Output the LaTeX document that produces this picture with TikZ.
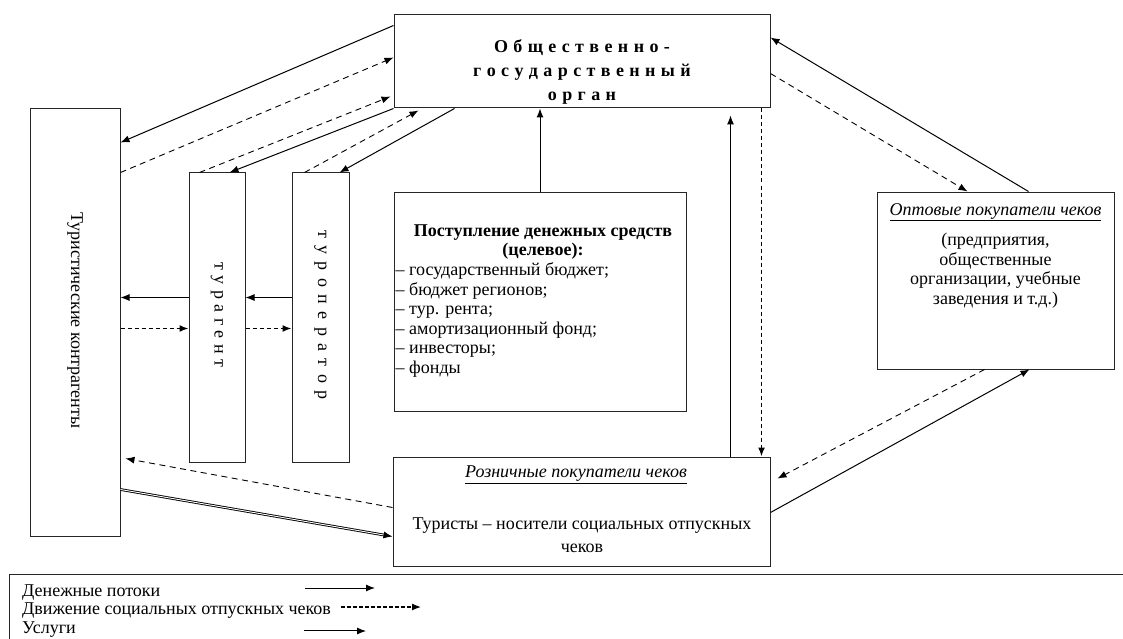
\documentclass[tikz,border=0pt]{standalone}
\usepackage{fontspec}
\setmainfont{Liberation Serif}
\usepackage{tikz}
\usetikzlibrary{arrows.meta}
\newcommand\wideskip[1]{\spaceskip=#1\relax}

\begin{document}
\begin{tikzpicture}[x=1pt,y=-1pt,font=\fontsize{18}{19.5}\selectfont]
\tikzset{>={Latex[width=7pt,length=9pt]}}
\tikzstyle{box} =[draw=black!85, line width=1pt, inner sep=0pt]
\tikzstyle{txt} =[inner sep=0pt]
\tikzstyle{money} =[->, line width=1pt]
\tikzstyle{cheque} =[->, line width=0.9pt, dash pattern=on 6pt off 4.5pt]
\tikzstyle{chequebold} =[->, line width=1.6pt, dash pattern=on 4pt off 3pt]
\tikzstyle{service} =[->, double, double distance=0.9pt, line width=0.9pt]
\useasboundingbox (0,0) rectangle (1123,639);

% boxes
\node[box, minimum width=376, minimum height=93] (org) at (582,61.5) {};
\node[box, minimum width=90, minimum height=427] (kontr) at (75,322.5) {};
\node[box, minimum width=56, minimum height=289] (agent) at (217,317.5) {};
\node[box, minimum width=57, minimum height=289] (oper) at (320.5,317.5) {};
\node[box, minimum width=292, minimum height=219] (fund) at (540,301.5) {};
\node[box, minimum width=237, minimum height=177] (opt) at (995.5,280.5) {};
\node[box, minimum width=377, minimum height=109] (retail) at (581.5,511.5) {};

% texts
\node[txt, align=center, font={\fontsize{18}{24}\selectfont\bfseries\wideskip{5.4pt}}] (orgText) at ([yshift=-10.5]org.center) {О б щ е с т в е н н о -\\г о с у д а р с т в е н н ы й\\о р г а н};
\node[txt, rotate=-90] (kontrText) at ([yshift=2]kontr.center) {Туристические контрагенты};
\node[txt, rotate=-90, font={\fontsize{18}{19.5}\selectfont\wideskip{5.4pt}}] (agentText) at ([yshift=2.5]agent.center) {т у р а г е н т};
\node[txt, rotate=-90, font={\fontsize{18}{19.5}\selectfont\wideskip{7.4pt}}] (operText) at ([yshift=2.5]oper.center) {т у р о п е р а т о р};
\node[txt, align=center, font={\fontsize{18}{19.5}\selectfont\bfseries}] (fundHead) at (543,242) {Поступление денежных средств\\(целевое):};
\node[txt, align=left, anchor=west] (fundList) at ([xshift=2]fund.west |- 0,320) {-- государственный бюджет;\\-- бюджет регионов;\\-- тур. рента;\\-- амортизационный фонд;\\-- инвесторы;\\-- фонды};
\node[txt] (optTitle) at (995.5,212) {\underline{\textit{Оптовые покупатели чеков}}};
\node[txt, align=center] (optText) at (995.5,270.5) {(предприятия,\\общественные\\организации, учебные\\заведения и т.д.)};
\node[txt] (retailTitle) at (576,475) {\underline{\textit{Розничные покупатели чеков}}};
\node[txt, align=center, font={\fontsize{18}{23}\selectfont}] (retailText) at (582,535.5) {Туристы -- носители социальных отпускных\\чеков};

% money
\draw[money] ([yshift=-11]org.north west) -- ([yshift=-34]kontr.north east);
\draw[money] (org.south west) -- ([xshift=41]agent.north west);
\draw[money] ([xshift=61]org.south west) -- ([xshift=48]oper.north west);
\draw[money] (fund.north) -- (fund.north |- org.south);
\draw[money] ([xshift=-40]retail.north east) -- ([xshift=-40,yshift=-7]org.south east);
\draw[money] ([xshift=-86]opt.north east) -- ([yshift=-23]org.north east);
\draw[money] ([yshift=-56]retail.north east) -- ([xshift=153]opt.south west);
\draw[money] ([yshift=-125]agent.north west) -- ([yshift=-189]kontr.north east);
\draw[money] ([yshift=-125]oper.north west) -- ([yshift=-125]agent.north east);

% cheques
\draw[cheque] ([yshift=-64]kontr.north east) -- ([yshift=-43]org.north west);
\draw[cheque] ([xshift=11]agent.north west) -- ([xshift=-3,yshift=-82]org.north west);
\draw[cheque] ([xshift=13]oper.north west) -- ([xshift=25,yshift=-2]org.south west);
\draw[cheque] ([yshift=-59]org.north east) -- ([xshift=91]opt.north west);
\draw[cheque] ([xshift=108]opt.south west) -- ([xshift=7,yshift=-22]retail.north east);
\draw[cheque] ([yshift=-51]retail.north west) -- ([xshift=5,yshift=-350]kontr.north east);
\draw[chequebold] ([xshift=-9]org.south east) -- ([xshift=-9]retail.north east);
\draw[chequebold] ([yshift=-220]kontr.north east) -- ([yshift=-156]agent.north west);
\draw[chequebold] ([yshift=-156]agent.north east) -- ([yshift=-156]oper.north west);

% services
\draw[service] ([yshift=-381]kontr.north east) -- ([yshift=-80]retail.north west);

% legend
\draw[line width=1pt, draw=black!85] (9,639) -- (9,574) -- (1123,574);
\node[txt, align=left, anchor=west, font={\fontsize{18}{18.5}\selectfont}] (legend) at (22,611) {Денежные потоки\\Движение социальных отпускных чеков\\Услуги};
\coordinate (m1) at (305,588);
\coordinate (m2) at (375,588);
\coordinate (c1) at (341,607);
\coordinate (c2) at (421,607);
\coordinate (s1) at (304,631);
\coordinate (s2) at (366,631);
\draw[money] (m1) -- (m2);
\draw[->, line width=1.2pt, dash pattern=on 4pt off 2pt] (c1) -- (c2);
\draw[service] (s1) -- (s2);
\end{tikzpicture}
\end{document}
